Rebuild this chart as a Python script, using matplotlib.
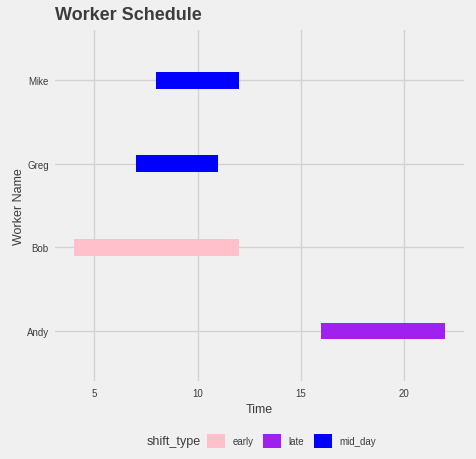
import matplotlib
matplotlib.use("Agg")
import matplotlib.pyplot as plt
from matplotlib.patches import Patch

plt.rcParams["font.family"] = ["Liberation Sans", "DejaVu Sans"]

workers = ["Andy", "Bob", "Greg", "Mike"]
start = [16, 4, 7, 8]
end = [22, 12, 11, 12]
shift = ["late", "early", "mid_day", "mid_day"]
shift_types = ["early", "late", "mid_day"]
colors = {"early": "#FFC0CB", "late": "#A020F0", "mid_day": "#0000FF"}
xticks = [5, 10, 15, 20]

BG = "#F0F0F0"
TXT = "#3C3C3C"
W, H = 476, 460
fig = plt.figure(figsize=(W / 100, H / 100), dpi=100, facecolor=BG)
ax = fig.add_axes([55 / W, 1 - 382 / H, (464 - 55) / W, (382 - 31) / H])
ax.set_facecolor(BG)

ypos = list(range(len(workers)))
for y, s, e, t in zip(ypos, start, end, shift):
    ax.barh(y, e - s, left=s, height=0.2, color=colors[t], zorder=3)

ax.set_xlim(3.1, 22.9)
ax.set_ylim(-0.6, len(workers) - 1 + 0.6)
ax.set_xticks(xticks)
ax.set_yticks(ypos)
ax.set_yticklabels(workers)
ax.grid(True, color="#D2D2D2", linewidth=1.0, zorder=0)
ax.set_axisbelow(True)
for sp in ax.spines.values():
    sp.set_visible(False)
ax.tick_params(length=0, labelsize=7, colors=TXT)
ax.tick_params(axis="x", pad=5)
ax.tick_params(axis="y", pad=4.5)
ax.set_xlabel("Time", fontsize=9, color=TXT, labelpad=4)
ax.set_ylabel("Worker Name", fontsize=9, color=TXT, labelpad=1.5)

fig.text(55 / W, 1 - 16 / H, "Worker Schedule", fontsize=13, fontweight="bold",
         color=TXT, va="center", ha="left")

fig.text(147 / W, 1 - 442 / H, "shift_type", fontsize=9, color=TXT,
         va="center", ha="left")
handles = [Patch(facecolor=colors[t], edgecolor="none") for t in shift_types]
leg = fig.legend(handles, shift_types, loc="center left",
                 bbox_to_anchor=(207 / W, 1 - 442 / H), ncol=3, frameon=False,
                 fontsize=7, handlelength=1.85, handleheight=1.85,
                 handletextpad=0.8, columnspacing=0.95, borderpad=0,
                 borderaxespad=0)
for t in leg.get_texts():
    t.set_color(TXT)

fig.savefig("out.png", dpi=100, facecolor=BG)
